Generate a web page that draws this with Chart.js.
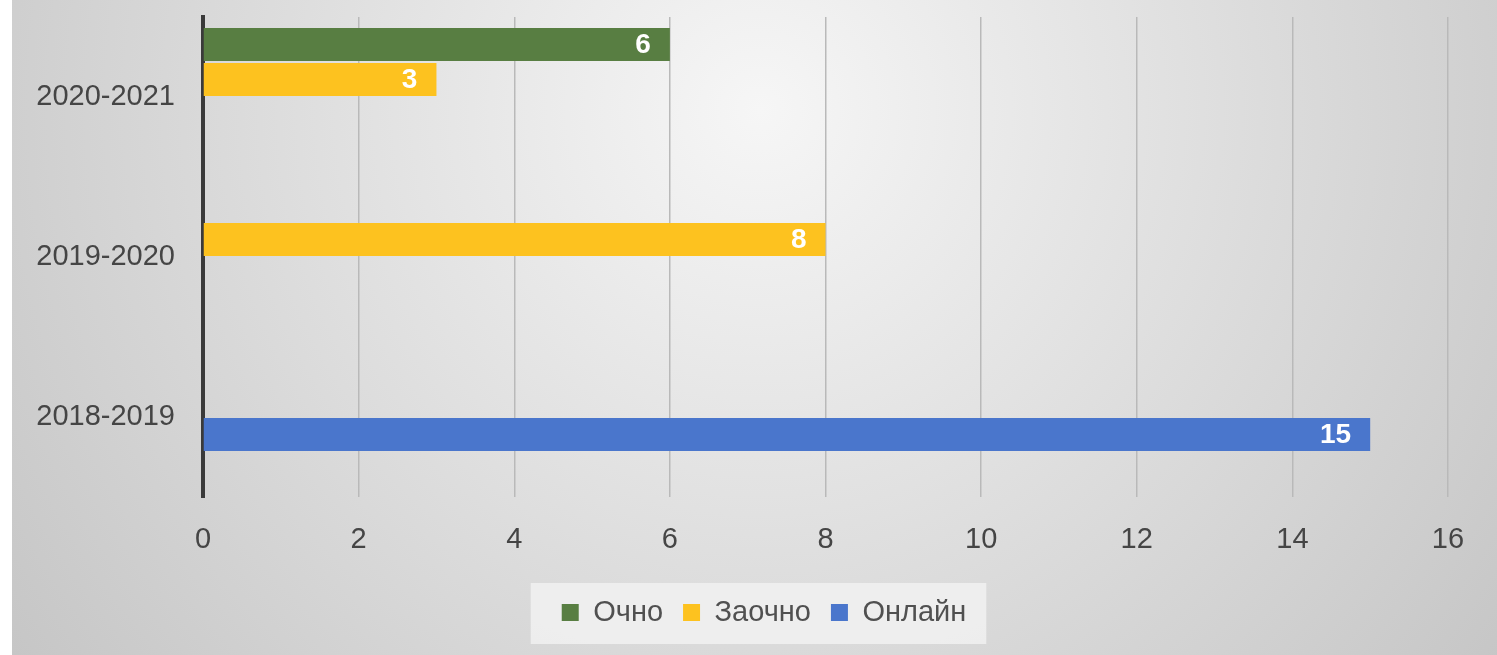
<!DOCTYPE html>
<html>
<head>
<meta charset="utf-8">
<script src="https://cdn.jsdelivr.net/npm/chart.js@4"></script>
<style>
  html, body { margin: 0; padding: 0; background: #fff; }
  #wrap { width: 1497px; height: 655px; }
</style>
</head>
<body>
<div id="wrap"><canvas id="eventsChart" width="1497" height="655"></canvas></div>
<script>
const labels = ['2020-2021', '2019-2020', '2018-2019'];
const ochno = [6, null, null];
const zaochno = [3, 8, null];
const online = [null, null, 15];
const spacer = [null, null, null]; // empty 4th slot, keeps the bar positions like the original
const xTicks = { min: 0, max: 16, step: 2 };

const FONT = "'Liberation Sans', Arial, sans-serif";

// gray radial background + white strip on the left
const bgPlugin = {
  id: 'bg',
  beforeDraw(chart) {
    const ctx = chart.ctx;
    const w = chart.width, h = chart.height;
    const g = ctx.createRadialGradient(760, 110, 0, 760, 110, 1000);
    g.addColorStop(0, '#f6f6f6');
    g.addColorStop(1, '#c2c2c2');
    ctx.save();
    ctx.fillStyle = g;
    ctx.fillRect(0, 0, w, h);
    ctx.fillStyle = '#ffffff';
    ctx.fillRect(0, 0, 12, h);

    // box behind the legend
    const boxes = chart.legend.legendHitBoxes || [];
    if (boxes.length) {
      let l = Infinity, r = -Infinity, t = Infinity, b = -Infinity;
      boxes.forEach((hb, i) => {
        if (!chart.legend.legendItems[i] || !chart.legend.legendItems[i].text) return;
        l = Math.min(l, hb.left); r = Math.max(r, hb.left + hb.width);
        t = Math.min(t, hb.top); b = Math.max(b, hb.top + hb.height);
      });
      ctx.fillStyle = 'rgba(240,240,240,0.9)';
      ctx.fillRect(l - 31, t - 15, (r - l) + 51, (b - t) + 32);
    }
    ctx.restore();
  },
  afterLayout(chart) {
    // move the legend a bit to the right (the chart area has a right padding)
    chart.legend.left += 40;
    chart.legend.right += 40;
  }
};

// white bold numbers inside the bar ends
const valueLabels = {
  id: 'valueLabels',
  afterDatasetsDraw(chart) {
    const ctx = chart.ctx;
    ctx.save();
    ctx.font = "bold 28px " + FONT;
    ctx.fillStyle = '#ffffff';
    ctx.textAlign = 'right';
    ctx.textBaseline = 'middle';
    chart.data.datasets.forEach((ds, i) => {
      if (!ds.label) return;
      chart.getDatasetMeta(i).data.forEach((bar, j) => {
        const v = ds.data[j];
        if (v == null) return;
        ctx.fillText(String(v), bar.x - 19, bar.y + 1);
      });
    });
    ctx.restore();
  }
};

const ctx = document.getElementById('eventsChart').getContext('2d');
new Chart(ctx, {
  type: 'bar',
  data: {
    labels: labels,
    datasets: [
      { label: 'Очно', backgroundColor: '#587e42', data: ochno },
      { label: 'Заочно', backgroundColor: '#fdc21f', data: zaochno },
      { label: 'Онлайн', backgroundColor: '#4a76cc', data: online },
      { label: '', backgroundColor: 'rgba(0,0,0,0)', data: spacer }
    ]
  },
  options: {
    indexAxis: 'y',
    responsive: false,
    animation: false,
    devicePixelRatio: 1,
    categoryPercentage: 0.875,
    barPercentage: 0.94,
    layout: { padding: { top: 17, right: 49, left: 0, bottom: 18 } },
    scales: {
      x: {
        min: xTicks.min,
        max: xTicks.max,
        ticks: { stepSize: xTicks.step, color: '#454545', font: { family: FONT, size: 29 }, padding: 26 },
        grid: { color: '#b9b9b9', lineWidth: 1.5, drawTicks: false },
        border: { display: false },
        afterFit(s) { s.height = 81; }
      },
      y: {
        ticks: { color: '#454545', font: { family: FONT, size: 29 }, padding: 28 },
        grid: { display: false, drawTicks: false },
        border: { color: '#3a3a3a', width: 4 },
        afterFit(s) { s.width = 203; s.paddingTop = 0; s.paddingBottom = 0; }
      }
    },
    plugins: {
      legend: {
        position: 'bottom',
        labels: {
          color: '#505050',
          font: { family: FONT, size: 29 },
          boxWidth: 17,
          boxHeight: 17,
          padding: 20,
          filter: (item) => item.text !== ''
        }
      },
      tooltip: { enabled: false }
    }
  },
  plugins: [bgPlugin, valueLabels]
});
</script>
</body>
</html>
